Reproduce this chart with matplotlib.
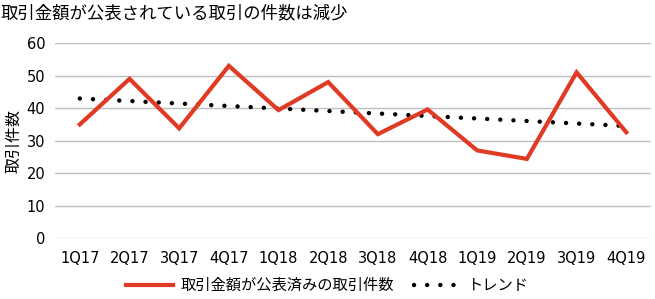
import matplotlib
matplotlib.use('Agg')
import matplotlib.pyplot as plt, numpy as np

plt.rcParams['font.family'] = ['DejaVu Sans', 'Noto Sans CJK JP']

quarters = ['1Q17','2Q17','3Q17','4Q17','1Q18','2Q18','3Q18','4Q18','1Q19','2Q19','3Q19','4Q19']
deals    = [35, 49, 33.8, 53, 39.4, 48, 32, 39.6, 27, 24.4, 51, 32.6]
title    = '取引金額が公表されている取引の件数は減少'
ylabel   = '取引件数'
lbl_deal = '取引金額が公表済みの取引件数'
lbl_trend = 'トレンド'

x = np.arange(len(quarters))
# linear trendline, same as the spreadsheet one
k, b = np.polyfit(x, deals, 1)
trend = k*x + b

fig = plt.figure(figsize=(6.55, 2.99), dpi=100)
ax = fig.add_axes([0.084, 0.203, 0.91, 0.653])

ax.plot(x, deals, color='#E03A24', lw=3, solid_joinstyle='miter', label=lbl_deal, zorder=3)
ax.plot(x, trend, color='black', lw=3.2, linestyle=(0, (0.01, 2.95)), dash_capstyle='round',
        label=lbl_trend, zorder=2)

ax.set_xlim(-0.5, len(quarters)-0.5)
ax.set_ylim(0, 60)
ax.set_yticks(range(0, 61, 10))
ax.set_xticks(x)
ax.set_xticklabels(quarters)
ax.tick_params(length=0, labelsize=10.5, colors='black')
ax.tick_params(axis='x', pad=9)
ax.tick_params(axis='y', pad=7)
ax.grid(axis='y', color='#BFBFBF', lw=1)
ax.set_axisbelow(True)
for s in ax.spines.values():
    s.set_visible(False)

ax.set_ylabel(ylabel, fontsize=11.5, labelpad=4)
fig.text(0.0, 0.955, title, fontsize=12.5, va='center', ha='left')

fig.legend(loc='center', bbox_to_anchor=(0.5, 0.045), ncol=2, frameon=False,
           fontsize=11, handlelength=3.1, columnspacing=1.3, handletextpad=0.45)

fig.savefig('out.png', dpi=100)
